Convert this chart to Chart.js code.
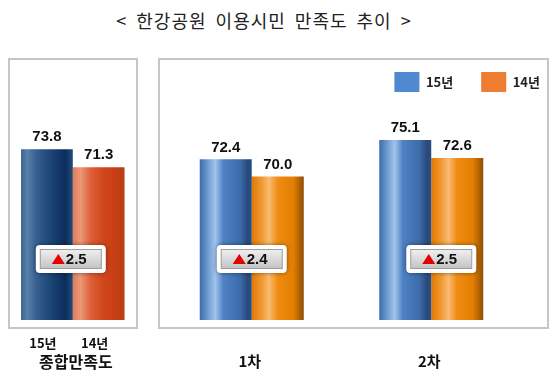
<!DOCTYPE html>
<html>
<head>
<meta charset="utf-8">
<script src="https://cdn.jsdelivr.net/npm/chart.js"></script>
<style>
  html, body { margin: 0; padding: 0; background: #fff; }
  body { width: 550px; height: 371px; position: relative; overflow: hidden; }
  #title {
    position: absolute; left: 0; top: 7px; width: 528px; text-align: center;
    font: 18px 'Noto Sans CJK KR', sans-serif; color: #222; line-height: 26px;
    letter-spacing: 1px; word-spacing: 4px;
  }
  .box { position: absolute; box-sizing: border-box; border: 2px solid #c6c6c6; }
  canvas { position: absolute; }
</style>
</head>
<body>
<div id="title">&lt; 한강공원 이용시민 만족도 추이 &gt;</div>
<div class="box" style="left:8px; top:58px; width:130px; height:271px;"></div>
<div class="box" style="left:158px; top:58px; width:391px; height:271px;"></div>
<canvas id="overall" width="150" height="327" style="left:0; top:44px;"></canvas>
<canvas id="rounds" width="418" height="327" style="left:150px; top:44px;"></canvas>
<script>
// values
const seriesNames = ['15년', '14년'];
const overallLabels = ['종합만족도'];
const overall15 = [73.8];
const overall14 = [71.3];
const overallDiff = [2.5];
const roundLabels = ['1차', '2차'];
const round15 = [72.4, 75.1];
const round14 = [70.0, 72.6];
const roundDiff = [2.4, 2.5];

const Y_MIN = 50;
const Y_MAX = 80.4;
const BADGE_LEVEL = 58.5;
const KR = "'Noto Sans CJK KR', sans-serif";

// cylinder-like horizontal gradient for each bar
function barFill(stops, catPct) {
  return ctx => {
    const chart = ctx.chart;
    const area = chart.chartArea;
    if (!area || ctx.type !== 'data') return stops[2][1];
    const n = chart.data.labels.length;
    const nds = chart.data.datasets.length;
    const catW = (area.right - area.left) / n;
    const barW = catW * catPct / nds;
    const left = chart.scales.x.getPixelForValue(ctx.dataIndex) - catW * catPct / 2 + ctx.datasetIndex * barW;
    const g = chart.ctx.createLinearGradient(left, 0, left + barW, 0);
    stops.forEach(s => g.addColorStop(s[0], s[1]));
    return g;
  };
}

const navy = [[0, '#3a6390'], [0.12, '#5a80aa'], [0.3, '#345f8e'], [0.6, '#1a4374'], [0.85, '#0c2d5a'], [1, '#224c7b']];
const red = [[0, '#e27a55'], [0.15, '#eb9879'], [0.35, '#dc5f36'], [0.6, '#d0461a'], [0.88, '#c43d12'], [1, '#b8401c']];
const blue = [[0, '#3d6cab'], [0.18, '#77a2d6'], [0.3, '#a2c3ea'], [0.45, '#4f82c5'], [0.78, '#3c6aa9'], [0.92, '#27497b'], [1, '#2a4f80']];
const orange = [[0, '#e07800'], [0.2, '#f19b35'], [0.33, '#f8bb73'], [0.5, '#f08c12'], [0.8, '#e27f02'], [0.93, '#ad5f03'], [1, '#8d4c06']];

const valueLabels = {
  id: 'valueLabels',
  afterDatasetsDraw(chart) {
    const c = chart.ctx;
    c.save();
    c.font = 'bold 15px Arial, "Liberation Sans", sans-serif';
    c.fillStyle = '#111';
    c.textAlign = 'center';
    c.textBaseline = 'middle';
    chart.data.datasets.forEach((ds, di) => {
      chart.getDatasetMeta(di).data.forEach((bar, i) => {
        c.fillText(ds.data[i].toFixed(1), bar.x, bar.y - 12);
      });
    });
    c.restore();
  }
};

const diffBadges = {
  id: 'diffBadges',
  afterDatasetsDraw(chart, args, opts) {
    const c = chart.ctx;
    const ys = chart.scales.y;
    opts.values.forEach((v, i) => {
      const cx = chart.scales.x.getPixelForValue(i) + (opts.shift[i] || 0);
      const cy = ys.getPixelForValue(BADGE_LEVEL);
      c.save();
      c.shadowColor = 'rgba(0,0,0,0.45)';
      c.shadowBlur = 4;
      c.fillStyle = '#fff';
      c.beginPath();
      c.roundRect(cx - 35, cy - 14, 70, 28, 4);
      c.fill();
      c.restore();
      c.save();
      const g = c.createLinearGradient(0, cy - 9, 0, cy + 9);
      g.addColorStop(0, '#efefef');
      g.addColorStop(1, '#c4c4c4');
      c.fillStyle = g;
      c.strokeStyle = '#9c9c9c';
      c.lineWidth = 1;
      c.fillRect(cx - 30.5, cy - 9.5, 61, 19);
      c.strokeRect(cx - 30.5, cy - 9.5, 61, 19);
      c.fillStyle = '#e40000';
      c.beginPath();
      c.moveTo(cx - 19, cy + 5);
      c.lineTo(cx - 12.5, cy - 5);
      c.lineTo(cx - 6, cy + 5);
      c.closePath();
      c.fill();
      c.font = 'bold 15px Arial, "Liberation Sans", sans-serif';
      c.fillStyle = '#111';
      c.textAlign = 'left';
      c.textBaseline = 'middle';
      c.fillText(v.toFixed(1), cx - 5, cy + 1);
      c.restore();
    });
  }
};

// series names under each bar of the overall panel
const barNames = {
  id: 'barNames',
  afterDraw(chart) {
    const c = chart.ctx;
    c.save();
    c.font = 'bold 13px ' + KR;
    c.fillStyle = '#111';
    c.textAlign = 'center';
    c.textBaseline = 'middle';
    chart.data.datasets.forEach((ds, di) => {
      chart.getDatasetMeta(di).data.forEach(bar => {
        c.fillText(ds.label, bar.x - 4, chart.chartArea.bottom + 23);
      });
    });
    c.restore();
  }
};

function xAxis(labelOffset, size) {
  return {
    grid: { display: false, drawTicks: false },
    border: { display: false },
    ticks: { color: '#111', padding: 32, labelOffset: labelOffset, font: { family: KR, size: size, weight: 'bold' } },
    afterFit(s) { s.height = 51; }
  };
}

const overallPct = 104 / 129;
new Chart(document.getElementById('overall'), {
  type: 'bar',
  data: {
    labels: overallLabels,
    datasets: [
      { label: seriesNames[0], data: overall15, backgroundColor: barFill(navy, overallPct) },
      { label: seriesNames[1], data: overall14, backgroundColor: barFill(red, overallPct) }
    ]
  },
  options: {
    responsive: false,
    devicePixelRatio: 1,
    animation: false,
    events: [],
    layout: { padding: { left: 8, right: 13, top: 58, bottom: 0 } },
    datasets: { bar: { categoryPercentage: overallPct, barPercentage: 1 } },
    scales: {
      x: xAxis(3, 16),
      y: { display: false, min: Y_MIN, max: Y_MAX }
    },
    plugins: {
      legend: { display: false },
      tooltip: { enabled: false },
      diffBadges: { values: overallDiff, shift: [-2] }
    }
  },
  plugins: [valueLabels, diffBadges, barNames]
});

const roundPct = 104 / 179.5;
new Chart(document.getElementById('rounds'), {
  type: 'bar',
  data: {
    labels: roundLabels,
    datasets: [
      { label: seriesNames[0], data: round15, backgroundColor: barFill(blue, roundPct), legendColor: '#4f89d0' },
      { label: seriesNames[1], data: round14, backgroundColor: barFill(orange, roundPct), legendColor: '#ee7d31' }
    ]
  },
  options: {
    responsive: false,
    devicePixelRatio: 1,
    animation: false,
    events: [],
    layout: { padding: { left: 12, right: 0, top: 0, bottom: 0 } },
    datasets: { bar: { categoryPercentage: roundPct, barPercentage: 1 } },
    scales: {
      x: xAxis(-2, 15),
      y: {
        position: 'right', min: Y_MIN, max: Y_MAX,
        ticks: { display: false }, grid: { display: false }, border: { display: false },
        afterFit(s) { s.width = 47; }
      }
    },
    plugins: {
      legend: {
        position: 'top', align: 'end',
        labels: {
          boxWidth: 25, boxHeight: 20, padding: 28, color: '#222',
          font: { family: KR, size: 13, weight: 'bold' },
          generateLabels: chart => chart.data.datasets.map((ds, i) => ({
            text: ds.label, fillStyle: ds.legendColor, strokeStyle: ds.legendColor,
            lineWidth: 0, datasetIndex: i, hidden: false, fontColor: '#222'
          }))
        }
      },
      tooltip: { enabled: false },
      diffBadges: { values: roundDiff, shift: [0, 10] }
    }
  },
  plugins: [valueLabels, diffBadges]
});
</script>
</body>
</html>
